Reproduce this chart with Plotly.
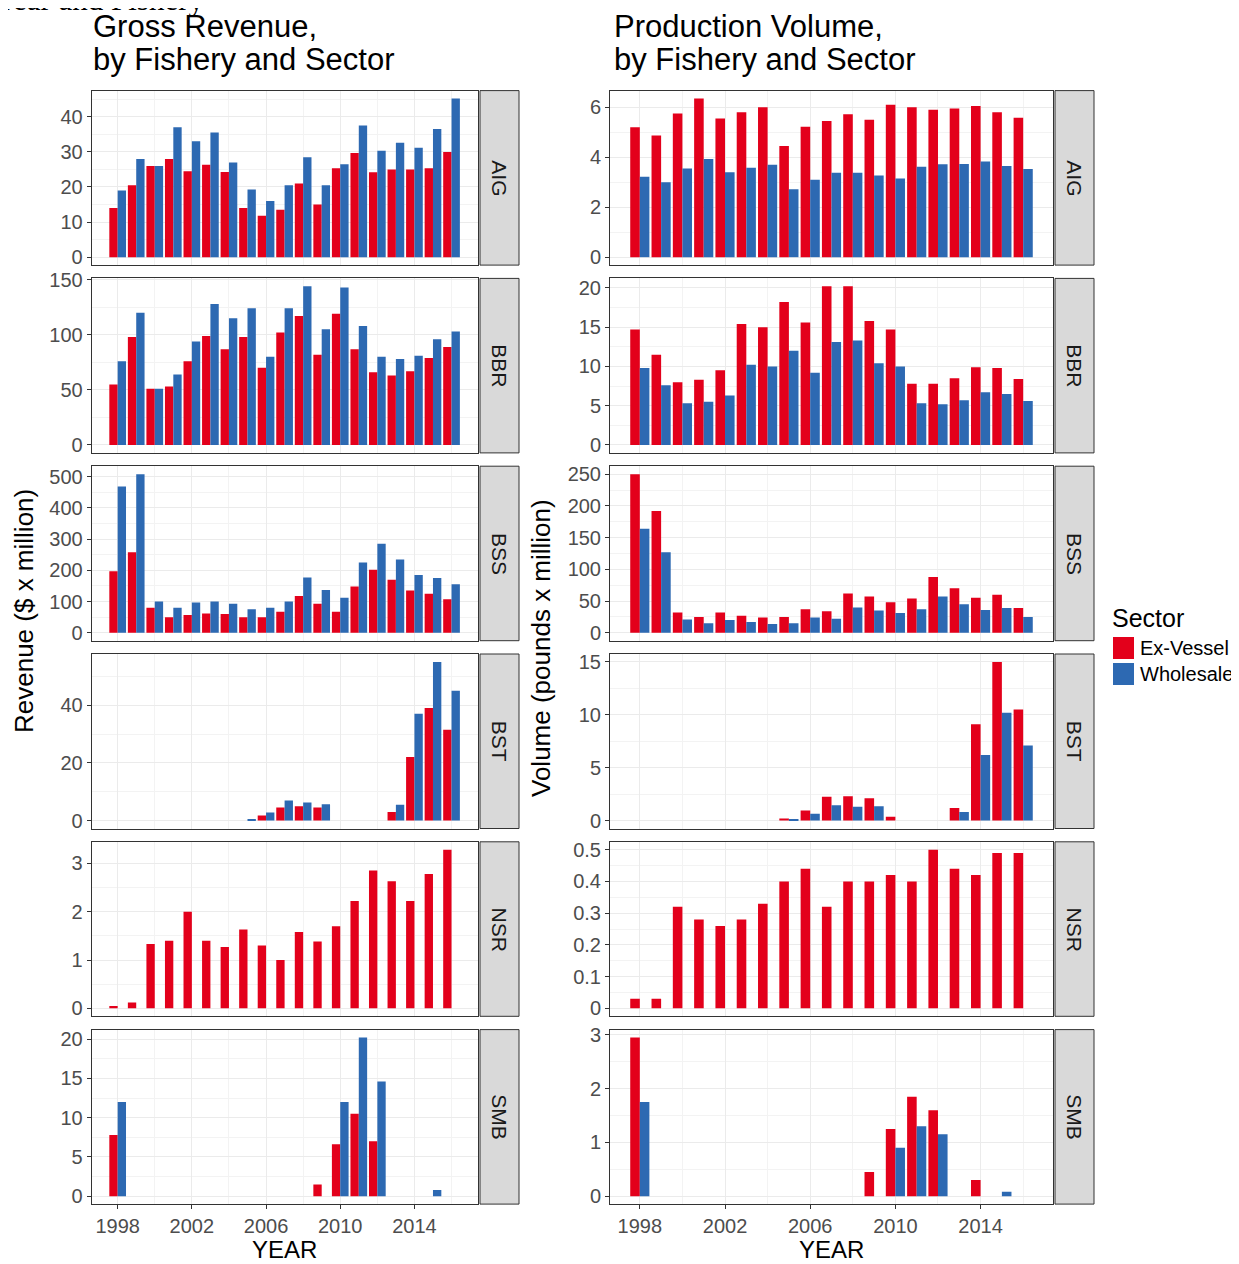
import plotly.graph_objects as go

# ---------------- data ----------------
YEARS = list(range(1998, 2017))
FISHERIES = ["AIG", "BBR", "BSS", "BST", "NSR", "SMB"]
N = None

# Gross revenue ($ x million)
rev_AIG_ex = [14, 20.5, 26, 28, 24.5, 26.3, 24.3, 14, 11.8, 13.5, 21, 15, 25.3, 29.7, 24.2, 25, 25, 25.3, 30]
rev_AIG_wh = [19, 28, 26, 37, 33, 35.5, 27, 19.3, 16, 20.5, 28.5, 20.5, 26.5, 37.5, 30.3, 32.6, 31.2, 36.5, 45.2]
rev_BBR_ex = [55, 98, 51, 53, 76, 99, 87, 98, 70, 102, 117, 82, 119, 87, 66, 63, 67, 79, 89]
rev_BBR_wh = [76, 120, 51, 64, 94, 128, 115, 124, 80, 124, 144, 105, 143, 108, 80, 78, 81, 96, 103]
rev_BSS_ex = [197, 258, 80, 50, 57, 62, 60, 50, 50, 67, 118, 93, 67, 148, 202, 170, 135, 125, 107]
rev_BSS_wh = [468, 508, 100, 80, 97, 100, 93, 75, 80, 100, 177, 137, 112, 225, 285, 235, 185, 175, 155]
rev_BST_ex = [N, N, N, N, N, N, N, N, 1.8, 4.5, 5, 4.5, N, N, N, 3, 22, 39, 31.5]
rev_BST_wh = [N, N, N, N, N, N, N, 0.5, 2.8, 7, 6.3, 5.7, N, N, N, 5.5, 37, 55, 45]
rev_NSR_ex = [0.05, 0.12, 1.33, 1.4, 2.0, 1.4, 1.27, 1.63, 1.3, 1.0, 1.58, 1.38, 1.7, 2.22, 2.85, 2.63, 2.22, 2.78, 3.28]
rev_NSR_wh = [N] * 19
rev_SMB_ex = [7.8, N, N, N, N, N, N, N, N, N, N, 1.5, 6.6, 10.5, 7, N, N, N, N]
rev_SMB_wh = [12, N, N, N, N, N, N, N, N, N, N, N, 12, 20.2, 14.6, N, N, 0.8, N]

# Production volume (pounds x million)
vol_AIG_ex = [5.2, 4.87, 5.75, 6.35, 5.55, 5.8, 6.0, 4.45, 5.22, 5.45, 5.72, 5.5, 6.1, 6.0, 5.9, 5.95, 6.05, 5.8, 5.58]
vol_AIG_wh = [3.22, 3.0, 3.55, 3.93, 3.4, 3.58, 3.7, 2.72, 3.1, 3.38, 3.38, 3.27, 3.15, 3.62, 3.72, 3.73, 3.83, 3.65, 3.53]
vol_BBR_ex = [14.7, 11.5, 8.0, 8.3, 9.5, 15.4, 15.0, 18.2, 15.6, 20.2, 20.2, 15.8, 14.7, 7.8, 7.8, 8.5, 9.9, 9.8, 8.4]
vol_BBR_wh = [9.8, 7.6, 5.3, 5.5, 6.3, 10.2, 10.0, 12.0, 9.2, 13.1, 13.3, 10.4, 10.0, 5.3, 5.2, 5.7, 6.7, 6.5, 5.6]
vol_BSS_ex = [250, 192, 32, 25, 32, 27, 24, 25, 37, 34, 62, 57, 48, 54, 88, 70, 55, 60, 39]
vol_BSS_wh = [164, 127, 21, 15, 20, 17, 14, 15, 24, 22, 40, 35, 31, 37, 57, 45, 36, 39, 25]
vol_BST_ex = [N, N, N, N, N, N, N, 0.2, 0.95, 2.25, 2.3, 2.1, 0.35, N, N, 1.2, 9.1, 15, 10.5]
vol_BST_wh = [N, N, N, N, N, N, N, 0.1, 0.65, 1.45, 1.3, 1.35, N, N, N, 0.8, 6.2, 10.2, 7.1]
vol_NSR_ex = [0.03, 0.03, 0.32, 0.28, 0.26, 0.28, 0.33, 0.40, 0.44, 0.32, 0.40, 0.40, 0.42, 0.40, 0.50, 0.44, 0.42, 0.49, 0.49]
vol_NSR_wh = [N] * 19
vol_SMB_ex = [2.95, N, N, N, N, N, N, N, N, N, N, 0.45, 1.25, 1.85, 1.6, N, 0.3, N, N]
vol_SMB_wh = [1.75, N, N, N, N, N, N, N, N, N, N, N, 0.9, 1.3, 1.15, N, N, 0.08, N]

REVENUE = {
    "AIG": (rev_AIG_ex, rev_AIG_wh), "BBR": (rev_BBR_ex, rev_BBR_wh),
    "BSS": (rev_BSS_ex, rev_BSS_wh), "BST": (rev_BST_ex, rev_BST_wh),
    "NSR": (rev_NSR_ex, rev_NSR_wh), "SMB": (rev_SMB_ex, rev_SMB_wh),
}
VOLUME = {
    "AIG": (vol_AIG_ex, vol_AIG_wh), "BBR": (vol_BBR_ex, vol_BBR_wh),
    "BSS": (vol_BSS_ex, vol_BSS_wh), "BST": (vol_BST_ex, vol_BST_wh),
    "NSR": (vol_NSR_ex, vol_NSR_wh), "SMB": (vol_SMB_ex, vol_SMB_wh),
}
REV_TICK_STEP = {"AIG": 10, "BBR": 50, "BSS": 100, "BST": 20, "NSR": 1, "SMB": 5}
VOL_TICK_STEP = {"AIG": 2, "BBR": 5, "BSS": 50, "BST": 5, "NSR": 0.1, "SMB": 1}
X_TICKS = [1998, 2002, 2006, 2010, 2014]
SECTORS = ["Ex-Vessel", "Wholesale"]

# ---------------- style ----------------
PAGE_W, PAGE_H = 1239, 1264
OFF = 8  # default body margin of the page
W, H = PAGE_W - OFF, PAGE_H - OFF
RED = "#E3001B"
BLUE = "#2D69B2"
FONT = "Liberation Sans, Arial, sans-serif"
TICK_COL = "#4D4D4D"
LINE_COL = "#333333"
GRID_MAJOR = "#EBEBEB"
GRID_MINOR = "#F3F3F3"

PANEL_TOP0 = 90.6
ROW_STEP = 187.8
PANEL_H = 174.5
COLS = [
    dict(x0=91.7, x1=477.5, s0=480, s1=519),
    dict(x0=610.0, x1=1053.0, s0=1055, s1=1094),
]
XR = [1996.6, 2017.4]


def px_x(v):  # page pixel -> paper
    return (v - OFF) / W


def px_y(v):
    return 1 - (v - OFF) / H


fig = go.Figure()
layout = dict(
    width=W, height=H, margin=dict(l=0, r=0, t=0, b=0),
    paper_bgcolor="white", plot_bgcolor="white",
    barmode="group", bargap=0.1, bargroupgap=0.0,
    showlegend=False, font=dict(family=FONT, color=TICK_COL),
)
shapes = []
annotations = []

idx = 0
for c, (data, steps) in enumerate([(REVENUE, REV_TICK_STEP), (VOLUME, VOL_TICK_STEP)]):
    col = COLS[c]
    for r, fish in enumerate(FISHERIES):
        idx += 1
        xa = "x" if idx == 1 else f"x{idx}"
        ya = "y" if idx == 1 else f"y{idx}"
        top = PANEL_TOP0 + r * ROW_STEP
        bot = top + PANEL_H
        ex, wh = data[fish]
        for vals, name, color in [(ex, SECTORS[0], RED), (wh, SECTORS[1], BLUE)]:
            fig.add_trace(go.Bar(
                x=YEARS, y=vals, name=name, marker=dict(color=color, line=dict(width=0)),
                xaxis=xa, yaxis=ya, offsetgroup=name, showlegend=False,
            ))
        vmax = max(v for v in ex + wh if v is not None)
        step = steps[fish]
        last = r == len(FISHERIES) - 1
        layout["xaxis" if idx == 1 else f"xaxis{idx}"] = dict(
            domain=[px_x(col["x0"]), px_x(col["x1"])], anchor=ya,
            range=XR, tickmode="array", tickvals=X_TICKS,
            showticklabels=last, ticks="outside" if last else "", ticklen=4,
            tickcolor=LINE_COL, tickfont=dict(size=20, color=TICK_COL, family=FONT),
            showgrid=True, gridcolor=GRID_MAJOR, gridwidth=1.1,
            minor=dict(tickmode="linear", tick0=1998, dtick=2, showgrid=True,
                       gridcolor=GRID_MINOR, gridwidth=0.6, ticks=""),
            showline=True, mirror=True, linecolor=LINE_COL, linewidth=1,
            zeroline=False, automargin=False,
        )
        layout["yaxis" if idx == 1 else f"yaxis{idx}"] = dict(
            domain=[px_y(bot), px_y(top)], anchor=xa,
            range=[-0.05 * vmax, 1.05 * vmax], tickmode="linear", tick0=0, dtick=step,
            ticks="outside", ticklen=4, tickcolor=LINE_COL,
            tickfont=dict(size=20, color=TICK_COL, family=FONT),
            showgrid=True, gridcolor=GRID_MAJOR, gridwidth=1.1,
            minor=dict(tickmode="linear", tick0=0, dtick=step / 2, showgrid=True,
                       gridcolor=GRID_MINOR, gridwidth=0.6, ticks=""),
            showline=True, mirror=True, linecolor=LINE_COL, linewidth=1,
            zeroline=False, automargin=False,
        )
        # facet strip
        shapes.append(dict(
            type="rect", xref="paper", yref="paper",
            x0=px_x(col["s0"]), x1=px_x(col["s1"]), y0=px_y(bot), y1=px_y(top),
            fillcolor="#D9D9D9", line=dict(color=LINE_COL, width=1), layer="above",
        ))
        annotations.append(dict(
            xref="paper", yref="paper", x=px_x((col["s0"] + col["s1"]) / 2),
            y=px_y((top + bot) / 2), text=fish, showarrow=False, textangle=90,
            font=dict(size=21, color="#1A1A1A", family=FONT),
            xanchor="center", yanchor="middle",
        ))


def text(x, y, s, size, xanchor="left", yanchor="middle", angle=0, family=FONT, color="black"):
    return dict(xref="paper", yref="paper", x=px_x(x), y=px_y(y), xanchor=xanchor,
                yanchor=yanchor, text=s, showarrow=False, textangle=angle,
                font=dict(size=size, color=color, family=family))


annotations += [
    text(91, 27, "Gross Revenue,", 31),
    text(91, 60, "by Fishery and Sector", 31),
    text(612, 27, "Production Volume,", 31),
    text(612, 60, "by Fishery and Sector", 31),
    text(24, 611, "Revenue ($ x million)", 26, xanchor="center", angle=-90),
    text(541, 648, "Volume (pounds x million)", 26, xanchor="center", angle=-90),
    text((COLS[0]["x0"] + COLS[0]["x1"]) / 2, 1234, "YEAR", 24, xanchor="center", yanchor="top"),
    text((COLS[1]["x0"] + COLS[1]["x1"]) / 2, 1234, "YEAR", 24, xanchor="center", yanchor="top"),
    text(206, -1, "by Year and Fishery", 31, xanchor="right",
         family="Liberation Serif, Times New Roman, serif"),
]

# legend (drawn as keys + labels to match the key size of the original)
annotations.append(text(1110, 618, "Sector", 25))
for i, (name, color) in enumerate(zip(SECTORS, [RED, BLUE])):
    y0 = 637 + i * 26
    shapes.append(dict(type="rect", xref="paper", yref="paper",
                       x0=px_x(1113), x1=px_x(1134), y0=px_y(y0 + 22), y1=px_y(y0),
                       fillcolor=color, line=dict(width=0)))
    annotations.append(text(1138, y0 + 11, name, 20))

layout["shapes"] = shapes
layout["annotations"] = annotations
fig.update_layout(**layout)
fig.write_html("out.html")
